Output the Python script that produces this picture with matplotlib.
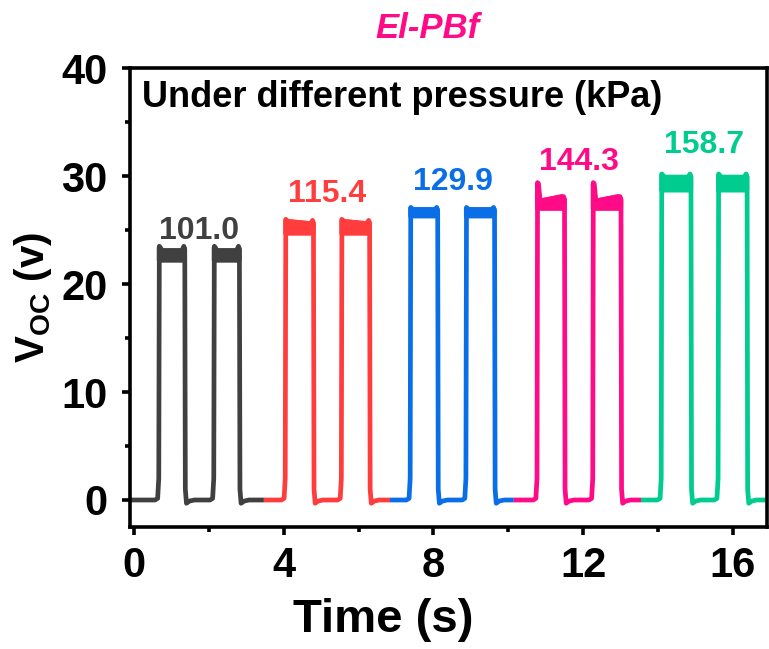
import numpy as np
import matplotlib
matplotlib.use("Agg")
import matplotlib.pyplot as plt
from matplotlib.ticker import MultipleLocator

plt.rcParams['font.family'] = ['Liberation Sans', 'DejaVu Sans']
plt.rcParams['font.weight'] = 'bold'
plt.rcParams['mathtext.fontset'] = 'custom'
plt.rcParams['mathtext.bf'] = 'Liberation Sans:bold'

# pressure steps (kPa) and the colour used for each
pressures = ["101.0", "115.4", "129.9", "144.3", "158.7"]
colors = ["#404040", "#ff3d3d", "#0a6fe6", "#ff0a87", "#00cc90"]

# time where each pressure record starts/ends (s)
seg_bounds = [-0.11, 3.47, 6.84, 10.15, 13.55, 16.93]

# pulse on / off times (s), two presses per pressure
rise_t = [[0.66, 2.13], [4.04, 5.54], [7.38, 8.87], [10.77, 12.26], [14.09, 15.61]]
fall_t = [[1.36, 2.82], [4.80, 6.30], [8.12, 9.64], [11.51, 13.02], [14.89, 16.39]]

# plateau levels (V): overshoot at start/end, noise band top and bottom
peak_start = [23.5, 26.0, 27.1, 29.4, 30.2]
peak_end = [23.5, 25.9, 27.1, 28.1, 30.2]
top_start = [23.1, 25.8, 26.9, 27.7, 29.9]
top_end = [23.1, 25.6, 26.9, 28.1, 29.9]
band_bottom = [22.2, 24.7, 26.3, 27.0, 28.7]

# baseline of each pressure label
label_y = [24.2, 27.6, 28.7, 30.6, 32.1]

LW = 3.4

fig = plt.figure(figsize=(7.69, 6.49), dpi=100)
ax = fig.add_axes([0.169, 0.188, 0.829, 0.707])


def pulse_outline(k, on, off):
    # outline of one press: baseline -> rising edge -> plateau -> falling edge -> undershoot
    t = [on - 0.10, on - 0.03, on, on + 0.015, on + 0.04, on + 0.08,
         off - 0.08, off - 0.03, off - 0.005, off + 0.01, off + 0.04, off + 0.12, off + 0.25]
    v = [0.0, 0.15, 2.0, peak_start[k], peak_start[k] - 0.1, top_start[k],
         top_end[k], peak_end[k], peak_end[k] - 0.3, 1.0, -0.3, -0.1, 0.0]
    return t, v


for k in range(len(pressures)):
    ts = [seg_bounds[k]]
    vs = [0.0]
    for on, off in zip(rise_t[k], fall_t[k]):
        t, v = pulse_outline(k, on, off)
        ts += t
        vs += v
        # fast ripple on the plateau shows up as a solid band
        bx = [on + 0.01, on + 0.08, off - 0.08, off - 0.01, off - 0.01, on + 0.01]
        by = [peak_start[k] - 0.1, top_start[k], top_end[k], peak_end[k] - 0.2,
              band_bottom[k], band_bottom[k]]
        ax.fill(bx, by, color=colors[k], lw=LW, joinstyle='round')
    ts.append(seg_bounds[k + 1])
    vs.append(0.0)
    ax.plot(ts, vs, color=colors[k], lw=LW, solid_joinstyle='round', solid_capstyle='butt')

    mid = (rise_t[k][0] + fall_t[k][1]) / 2
    ax.text(mid, label_y[k], pressures[k], color=colors[k], fontsize=23,
            fontweight='bold', ha='center', va='baseline')

ax.text(0.21, 37.3, "Under different pressure (kPa)", fontsize=26, fontweight='bold',
        ha='left', va='center')
ax.text(0.4665, 1.087, "El-PBf", transform=ax.transAxes, fontsize=25, fontweight='bold',
        style='italic', color='#ff0a87', ha='center', va='center')

ax.set_xlim(seg_bounds[0], seg_bounds[-1])
ax.set_ylim(-2.5, 40)
ax.xaxis.set_major_locator(MultipleLocator(4))
ax.xaxis.set_minor_locator(MultipleLocator(2))
ax.yaxis.set_major_locator(MultipleLocator(10))
ax.yaxis.set_minor_locator(MultipleLocator(5))

for s in ax.spines.values():
    s.set_linewidth(2.6)
ax.tick_params(which='major', direction='out', length=6, width=2.6, labelsize=30, pad=8)
ax.tick_params(which='minor', direction='out', length=3.5, width=2.6)
ax.tick_params(axis='y', pad=10)

ax.set_xlabel("Time (s)", fontsize=34, fontweight='bold', va='top')
ax.xaxis.set_label_coords(0.397, -0.155)
ax.text(-0.152, 0.5, "V$_{\\mathbf{OC}}$ (v)", transform=ax.transAxes, rotation=90,
        fontsize=29, fontweight='bold', ha='center', va='center')

fig.savefig("out.png", dpi=100)
